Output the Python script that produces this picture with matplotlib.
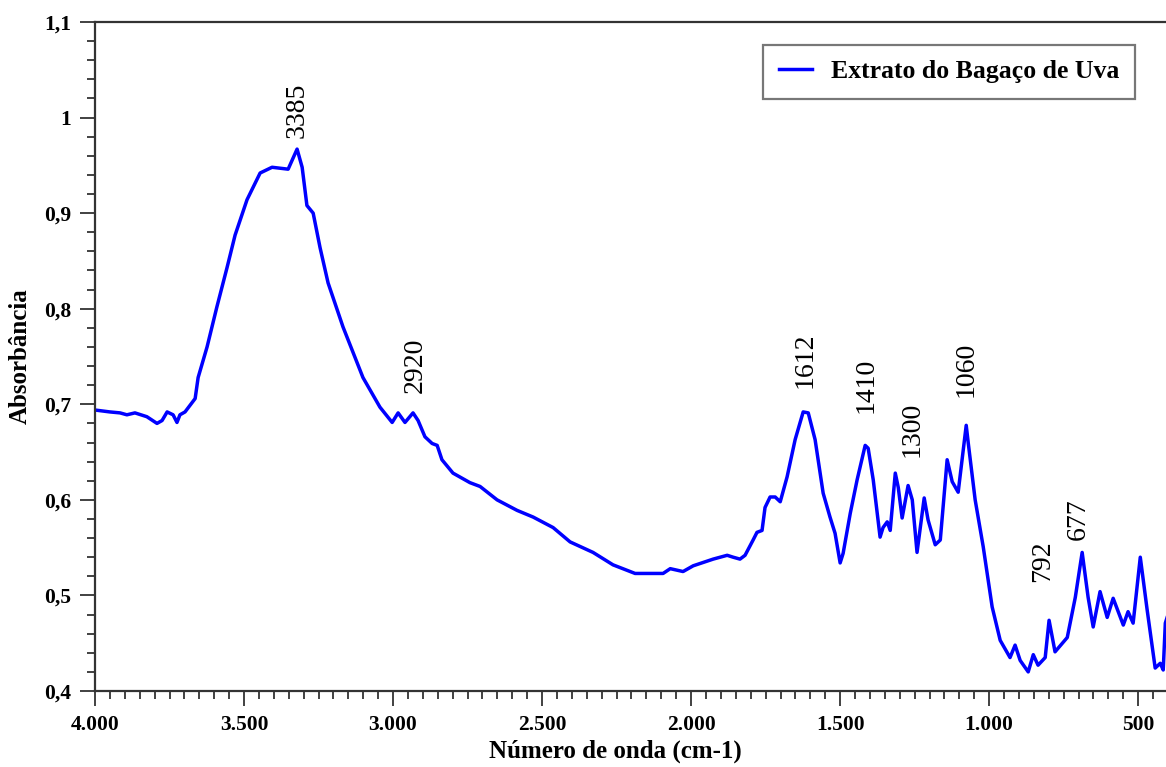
import numpy as np
import matplotlib.pyplot as plt
from matplotlib.ticker import MultipleLocator, FixedLocator, FixedFormatter

# FTIR trace (wavenumber cm-1, absorbance)
wavenumber = [4000, 3950, 3916, 3893, 3866, 3826, 3792, 3775, 3758, 3738, 3725, 3715, 3698,
              3681, 3664, 3654, 3624, 3591, 3557, 3530, 3490, 3446, 3406, 3352, 3322,
              3305, 3289, 3268, 3245, 3218, 3168, 3101, 3044, 3003, 2983, 2960, 2933,
              2916, 2893, 2869, 2852, 2836, 2799, 2742, 2708, 2651, 2584, 2530, 2463,
              2406, 2329, 2262, 2188, 2094, 2070, 2027, 1993, 1926, 1879, 1859, 1836,
              1819, 1792, 1779, 1762, 1752, 1735, 1718, 1701, 1678, 1651, 1624, 1607,
              1584, 1557, 1534, 1517, 1500, 1490, 1466, 1443, 1416, 1406, 1389, 1366,
              1356, 1342, 1332, 1315, 1305, 1292, 1272, 1258, 1242, 1218, 1205, 1181,
              1164, 1141, 1124, 1104, 1077, 1070, 1047, 1020, 990, 963, 930, 913, 896,
              869, 852, 836, 812, 799, 779, 738, 711, 688, 668, 651, 628, 604, 584,
              550, 534, 517, 493, 470, 443, 426, 416, 409, 400]
absorbance = [0.694, 0.692, 0.691, 0.689, 0.691, 0.687, 0.680, 0.683, 0.692, 0.689, 0.681, 0.689, 0.692,
              0.699, 0.706, 0.728, 0.760, 0.802, 0.843, 0.877, 0.914, 0.942, 0.948, 0.946, 0.967,
              0.948, 0.908, 0.900, 0.864, 0.827, 0.781, 0.728, 0.697, 0.681, 0.691, 0.681, 0.691,
              0.683, 0.666, 0.659, 0.657, 0.642, 0.628, 0.618, 0.614, 0.600, 0.589, 0.582, 0.571,
              0.556, 0.545, 0.532, 0.523, 0.523, 0.528, 0.525, 0.531, 0.538, 0.542, 0.540, 0.538,
              0.542, 0.558, 0.566, 0.568, 0.592, 0.603, 0.603, 0.598, 0.624, 0.663, 0.692, 0.691,
              0.663, 0.607, 0.582, 0.565, 0.534, 0.544, 0.586, 0.621, 0.657, 0.654, 0.621, 0.561,
              0.571, 0.577, 0.568, 0.628, 0.613, 0.581, 0.615, 0.600, 0.545, 0.602, 0.579, 0.553,
              0.558, 0.642, 0.619, 0.608, 0.678, 0.659, 0.600, 0.551, 0.488, 0.453, 0.435, 0.448, 0.432,
              0.420, 0.438, 0.427, 0.435, 0.474, 0.441, 0.456, 0.498, 0.545, 0.498, 0.467, 0.504, 0.477, 0.497,
              0.469, 0.483, 0.471, 0.540, 0.485, 0.424, 0.429, 0.422, 0.471, 0.48]

# peak labels and where they sit
peak_labels = ["3385", "2920", "1612", "1410", "1300", "1060", "792", "677"]
peak_x = [3322, 2926, 1617, 1413, 1258, 1077, 822, 701]
peak_y = [0.979, 0.712, 0.717, 0.691, 0.645, 0.708, 0.514, 0.558]

x_ticks = [4000, 3500, 3000, 2500, 2000, 1500, 1000, 500]
x_tick_labels = ["4.000", "3.500", "3.000", "2.500", "2.000", "1.500", "1.000", "500"]
y_ticks = [0.4, 0.5, 0.6, 0.7, 0.8, 0.9, 1.0, 1.1]
y_tick_labels = ["0,4", "0,5", "0,6", "0,7", "0,8", "0,9", "1", "1,1"]

serif = ["Liberation Serif", "DejaVu Serif"]

fig = plt.figure(figsize=(11.66, 7.67), dpi=100)
ax = fig.add_axes([95 / 1166, 76 / 767, 1073 / 1166, 669 / 767])

ax.plot(wavenumber, absorbance, color="#0000ff", lw=2.5, label="Extrato do Bagaço de Uva")

ax.set_xlim(4000, 400)
ax.set_ylim(0.4, 1.1)

ax.xaxis.set_major_locator(FixedLocator(x_ticks))
ax.xaxis.set_major_formatter(FixedFormatter(x_tick_labels))
ax.xaxis.set_minor_locator(MultipleLocator(50))
ax.yaxis.set_major_locator(FixedLocator(y_ticks))
ax.yaxis.set_major_formatter(FixedFormatter(y_tick_labels))
ax.yaxis.set_minor_locator(MultipleLocator(0.02))

ax.tick_params(which="major", length=11, width=1.3, color="#333333", pad=6)
ax.tick_params(which="minor", length=6, width=1.3, color="#333333")
for lab in ax.get_xticklabels() + ax.get_yticklabels():
    lab.set_family(serif)
    lab.set_fontweight("bold")
    lab.set_fontsize(15.5)

for side in ["left", "top", "bottom"]:
    ax.spines[side].set_linewidth(1.6)
    ax.spines[side].set_color("#333333")
ax.spines["right"].set_visible(False)

ax.set_xlabel("Número de onda (cm-1)", family=serif, fontweight="bold", fontsize=18)
ax.xaxis.set_label_coords(0.485, -0.072)
ax.set_ylabel("Absorbância", family=serif, fontweight="bold", fontsize=18)
ax.yaxis.set_label_coords(-0.059, 0.5)

for lab, px, py in zip(peak_labels, peak_x, peak_y):
    ax.text(px, py, lab, rotation=90, ha="center", va="bottom", family=serif, fontsize=20)

leg = ax.legend(loc="upper right", bbox_to_anchor=(1135 / 1166, 1 - 45 / 767),
                bbox_transform=fig.transFigure, borderaxespad=0, fancybox=False,
                prop={"family": serif, "weight": "bold", "size": 18.5},
                handlelength=1.3, borderpad=0.6, handletextpad=0.75)
leg.get_frame().set_edgecolor("#555555")
leg.get_frame().set_linewidth(1.6)

fig.savefig("out.png", dpi=100)
